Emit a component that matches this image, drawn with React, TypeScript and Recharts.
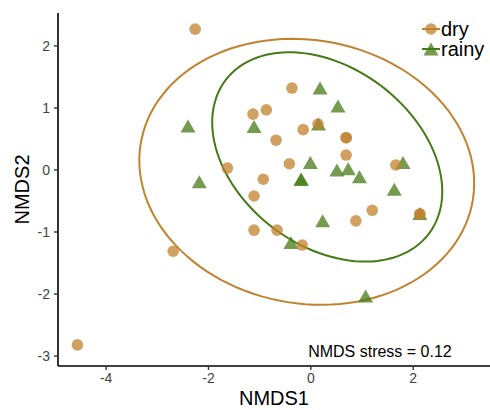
import { Legend, ReferenceDot, Scatter, ScatterChart, XAxis, YAxis } from "recharts";

// NMDS site scores
const dryX = [-2.26, -4.56, -2.69, -1.63, -1.13, -0.87, -0.37, -0.68, -0.15, 0.14, 0.69, 0.69, 0.69, -0.42, -0.93, -1.11, -1.11, -0.66, -0.17, 0.88, 1.2, 1.66, 2.13, 2.13];
const dryY = [2.27, -2.82, -1.31, 0.03, 0.9, 0.97, 1.32, 0.48, 0.65, 0.74, 0.52, 0.52, 0.24, 0.1, -0.15, -0.42, -0.97, -0.97, -1.21, -0.82, -0.65, 0.08, -0.71, -0.71];
const rainyX = [0.18, 0.53, -1.11, 0.15, -0.01, -0.19, -0.19, 0.51, 0.73, 0.95, 1.8, 1.63, -2.4, -2.18, 0.23, -0.39, 2.13, 1.07];
const rainyY = [1.32, 1.03, 0.7, 0.74, 0.12, -0.15, -0.15, 0.0, 0.02, -0.11, 0.12, -0.31, 0.71, -0.19, -0.82, -1.17, -0.7, -2.03];

// 95% ellipses: centre x, centre y, semi-major, semi-minor, angle (rad)
const dryEllipse = [-0.08, -0.03, 3.28, 2.13, -0.097];
const rainyEllipse = [0.32, 0.21, 2.37, 1.51, -0.4245];

const xTicks = [-4, -2, 0, 2];
const yTicks = [-3, -2, -1, 0, 1, 2];
const stressLabel = "NMDS stress = 0.12";

const DRY = "#C1822E";
const RAINY = "#467A16";
const FONT = "'Liberation Sans', Arial, Helvetica, sans-serif";

const zip = (xs: number[], ys: number[]) => xs.map((x, i) => ({ x, y: ys[i] }));

function ellipsePath([cx, cy, a, b, th]: number[], n = 120) {
  const pts = [];
  for (let i = 0; i <= n; i++) {
    const t = (i / n) * 2 * Math.PI;
    const u = a * Math.cos(t);
    const v = b * Math.sin(t);
    pts.push({ x: cx + u * Math.cos(th) - v * Math.sin(th), y: cy + u * Math.sin(th) + v * Math.cos(th) });
  }
  return pts;
}

const dryData = zip(dryX, dryY);
const rainyData = zip(rainyX, rainyY);

const Dot = (p: any) => <circle cx={p.cx} cy={p.cy} r={5.8} fill={DRY} fillOpacity={0.75} />;
const Tri = (p: any) => (
  <polygon
    points={`${p.cx},${p.cy - 6.5} ${p.cx - 7.5},${p.cy + 6.5} ${p.cx + 7.5},${p.cy + 6.5}`}
    fill={RAINY}
    fillOpacity={0.75}
  />
);
const NoShape = () => <g />;

const YTitle = (props: any) => {
  const vb = props.viewBox || { x: 0, y: 13, width: 58, height: 353 };
  const cx = vb.x + 21.5;
  const cy = vb.y + vb.height / 2;
  return (
    <text x={cx} y={cy} transform={`rotate(-90 ${cx} ${cy})`} textAnchor="middle" dominantBaseline="central" fontSize={20} fill="#000" fontFamily={FONT}>
      NMDS2
    </text>
  );
};

const legendItems = [
  { name: "dry", color: DRY, tri: false },
  { name: "rainy", color: RAINY, tri: true },
];

const LegendBox = () => (
  <div style={{ fontFamily: FONT }}>
    {legendItems.map((it) => (
      <div key={it.name} style={{ display: "flex", alignItems: "center", height: 20 }}>
        <svg width={20} height={20}>
          <line x1={1} x2={19} y1={10} y2={10} stroke={it.color} strokeWidth={2} />
          {it.tri ? (
            <polygon points="10,3.5 2.5,16.5 17.5,16.5" fill={it.color} fillOpacity={0.75} />
          ) : (
            <circle cx={10} cy={10} r={5.8} fill={it.color} fillOpacity={0.75} />
          )}
        </svg>
        <span style={{ fontSize: 20, lineHeight: "20px", color: "#000" }}>{it.name}</span>
      </div>
    ))}
  </div>
);

export default function App() {
  return (
    <div style={{ position: "absolute", left: 0, top: 0, background: "#fff" }}>
      <ScatterChart width={490} height={410} margin={{ top: 13, right: 0, bottom: 0, left: 0 }} style={{ fontFamily: FONT }}>
        <XAxis
          type="number"
          dataKey="x"
          domain={[-4.94, 3.5]}
          ticks={xTicks}
          allowDataOverflow
          height={44}
          axisLine={{ stroke: "#000", strokeWidth: 1.6 }}
          tickLine={{ stroke: "#333", strokeWidth: 1.4 }}
          tickSize={4}
          tickMargin={3}
          tick={{ fill: "#444", fontSize: 14, fontFamily: FONT }}
          label={{ value: "NMDS1", position: "insideBottom", offset: 5, fontSize: 20, fill: "#000", fontFamily: FONT }}
        />
        <YAxis
          type="number"
          dataKey="y"
          domain={[-3.16, 2.53]}
          ticks={yTicks}
          allowDataOverflow
          width={58}
          axisLine={{ stroke: "#000", strokeWidth: 1.6 }}
          tickLine={{ stroke: "#333", strokeWidth: 1.4 }}
          tickSize={4}
          tickMargin={4}
          tick={{ fill: "#444", fontSize: 14, fontFamily: FONT }}
          label={YTitle}
        />
        <Scatter data={ellipsePath(dryEllipse)} line={{ stroke: DRY, strokeWidth: 2 }} lineType="joint" shape={NoShape} fill={DRY} isAnimationActive={false} legendType="none" />
        <Scatter data={ellipsePath(rainyEllipse)} line={{ stroke: RAINY, strokeWidth: 2 }} lineType="joint" shape={NoShape} fill={RAINY} isAnimationActive={false} legendType="none" />
        <Scatter name="rainy" data={rainyData} shape={Tri} fill={RAINY} isAnimationActive={false} />
        <Scatter name="dry" data={dryData} shape={Dot} fill={DRY} isAnimationActive={false} />
        <ReferenceDot
          x={1.35}
          y={-2.92}
          r={0}
          fill="none"
          stroke="none"
          label={{ value: stressLabel, position: "center", fontSize: 16, fill: "#000", fontFamily: FONT }}
        />
        <Legend
          layout="vertical"
          align="center"
          verticalAlign="middle"
          content={LegendBox}
          wrapperStyle={{ top: 19, left: 421, width: 70 }}
        />
      </ScatterChart>
    </div>
  );
}
